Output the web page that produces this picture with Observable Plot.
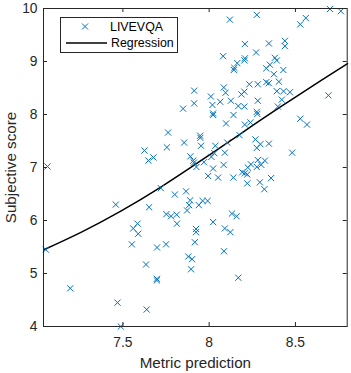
<!DOCTYPE html>
<html><head><meta charset="utf-8">
<script src="https://cdn.jsdelivr.net/npm/d3@7"></script>
<script src="https://cdn.jsdelivr.net/npm/@observablehq/plot@0.6"></script>
<style>
body{margin:0;background:#fff;font-family:"Liberation Sans",Arial,sans-serif;}
#chart{position:relative;width:351px;height:373px;}
#legend{position:absolute;left:60px;top:17px;}
</style></head><body><div id="chart"></div>
<script>
const seriesName = "LIVEVQA";
const fitName = "Regression";
const xLabel = "Metric prediction";
const yLabel = "Subjective score";
const xTicks = [7.5, 8, 8.5];
const yTicks = [4, 5, 6, 7, 8, 9, 10];

const metric = [8.70,8.763,8.120,8.276,8.560,8.528,8.207,8.346,8.439,8.439,8.081,8.272,8.207,8.204,8.381,8.392,8.163,8.146,8.143,8.331,8.352,8.375,8.430,
7.913,8.085,8.095,8.233,8.282,8.331,8.346,8.404,8.187,8.204,8.010,8.392,8.431,8.468,8.691,8.421,7.913,7.849,8.019,8.064,8.126,8.169,8.204,8.282,8.398,
8.023,8.023,8.276,8.279,8.141,8.528,8.567,8.098,8.207,8.239,7.762,7.948,7.949,8.176,7.855,7.755,7.953,8.036,8.105,8.268,8.297,8.276,8.346,7.625,
7.648,7.677,7.891,7.908,7.911,7.970,8.030,8.013,8.091,8.481,7.926,8.084,8.023,8.282,8.323,8.302,8.276,8.242,8.224,7.063,
7.994,8.052,8.140,8.192,8.207,8.221,8.359,8.221,8.294,8.320,7.720,7.866,7.801,7.890,7.884,7.872,7.940,7.962,7.991,7.459,7.652,7.752,7.779,7.812,
7.813,8.023,8.091,8.123,8.132,8.159,7.924,7.924,7.917,7.585,7.560,7.589,7.552,7.698,7.750,7.054,8.086,7.634,7.879,7.901,7.895,7.697,7.697,8.169,
7.195,7.469,7.638,7.488];
const subjective = [9.99,9.95,9.79,9.88,9.82,9.70,9.33,9.34,9.39,9.29,9.10,9.17,9.06,9.02,9.07,9.02,8.97,8.88,8.84,8.87,8.94,8.76,8.84,
8.45,8.51,8.41,8.57,8.57,8.61,8.59,8.62,8.38,8.43,8.34,8.44,8.44,8.42,8.36,8.28,8.21,8.11,8.18,8.24,8.26,8.16,8.15,8.26,8.15,
8.02,7.99,8.05,8.01,7.99,7.92,7.81,7.83,7.81,7.85,7.66,7.60,7.56,7.61,7.47,7.38,7.41,7.41,7.47,7.53,7.44,7.37,7.45,7.32,
7.13,7.19,7.21,7.13,7.09,7.10,7.27,7.20,7.28,7.28,7.01,7.05,6.98,7.14,7.13,7.05,7.01,7.06,7.00,7.02,
6.84,6.81,6.81,6.91,6.89,6.87,6.80,6.70,6.72,6.59,6.61,6.55,6.49,6.38,6.29,6.19,6.29,6.37,6.37,6.30,6.25,6.12,6.08,6.11,
5.94,5.97,5.85,5.78,6.13,6.08,5.84,5.78,5.59,5.94,5.85,5.75,5.55,5.49,5.55,5.45,5.42,5.17,5.32,5.27,5.08,4.90,4.87,4.92,
4.72,4.45,4.32,4.00];

const regMetric = [7.042, 7.257, 7.488, 7.720, 7.952, 8.184, 8.415, 8.647, 8.802];
const regScore  = [5.449, 5.777, 6.177, 6.630, 7.128, 7.641, 8.147, 8.638, 8.960];

const points = metric.map((x, i) => ({x, y: subjective[i]}));
const fit = regMetric.map((x, i) => ({x, y: regScore[i]}));

const W = 351, H = 373, mL = 43, mR = 4.3, mT = 8, mB = 47;
const innerW = W - mL - mR, innerH = H - mT - mB;
const ink = "#262626";
const blue = "#0072BD";
const font = "'Liberation Sans', Arial, sans-serif";

const chart = Plot.plot({
  width: W, height: H,
  marginLeft: mL, marginRight: mR, marginTop: mT, marginBottom: mB,
  style: {fontFamily: font, fontSize: "13.8px", color: ink, background: "#fff", overflow: "visible"},
  x: {domain: [7.04, 8.8]},
  y: {domain: [4, 10]},
  marks: [
    Plot.line(fit, {x: "x", y: "y", stroke: "#000", strokeWidth: 1.5, curve: "natural"}),
    Plot.dot(points, {x: "x", y: "y", symbol: "times", r: 2.9, stroke: blue, strokeWidth: 1}),
    Plot.tickX(xTicks, {x: d => d, stroke: ink, insetTop: innerH - 4}),
    Plot.tickX(xTicks, {x: d => d, stroke: ink, insetBottom: innerH - 4}),
    Plot.tickY(yTicks, {y: d => d, stroke: ink, insetRight: innerW - 4}),
    Plot.tickY(yTicks, {y: d => d, stroke: ink, insetLeft: innerW - 4}),
    Plot.axisX({ticks: xTicks, tickSize: 0, tickPadding: 10.5, tickFormat: d => `${d}`, label: null, fontSize: 13.8, fill: ink}),
    Plot.axisX({ticks: [], tickSize: 0, label: xLabel, labelAnchor: "center", labelOffset: 41, labelArrow: "none", fontSize: 15.2, fill: ink}),
    Plot.axisY({ticks: yTicks, tickSize: 0, tickPadding: 6, tickFormat: d => `${d}`, label: null, fontSize: 13.8, fill: ink}),
    Plot.axisY({ticks: [], tickSize: 0, label: yLabel, labelAnchor: "center", labelOffset: 38, labelArrow: "none", fontSize: 15.2, fill: ink}),
    Plot.frame({stroke: ink, strokeWidth: 1})
  ]
});
const host = document.getElementById("chart");
host.appendChild(chart);

// legend inside the axes (MATLAB style, top-left)
const lg = d3.select(host).append("svg").attr("id", "legend")
  .attr("width", 118).attr("height", 36)
  .style("font-family", font).style("font-size", "12.4px");
lg.append("rect").attr("x", 0.5).attr("y", 0.5).attr("width", 117).attr("height", 35)
  .attr("fill", "#fff").attr("stroke", ink);
const mk = lg.append("g").attr("transform", "translate(25,9.5)").attr("stroke", blue).attr("stroke-width", 1);
mk.append("line").attr("x1", -3).attr("y1", -3).attr("x2", 3).attr("y2", 3);
mk.append("line").attr("x1", -3).attr("y1", 3).attr("x2", 3).attr("y2", -3);
lg.append("text").attr("x", 50).attr("y", 9.5).attr("dy", "0.35em").attr("fill", "#000").text(seriesName);
lg.append("line").attr("x1", 6).attr("x2", 47).attr("y1", 26).attr("y2", 26).attr("stroke", "#000").attr("stroke-width", 1.5);
lg.append("text").attr("x", 51).attr("y", 26).attr("dy", "0.35em").attr("fill", "#000").text(fitName);
</script></body></html>
